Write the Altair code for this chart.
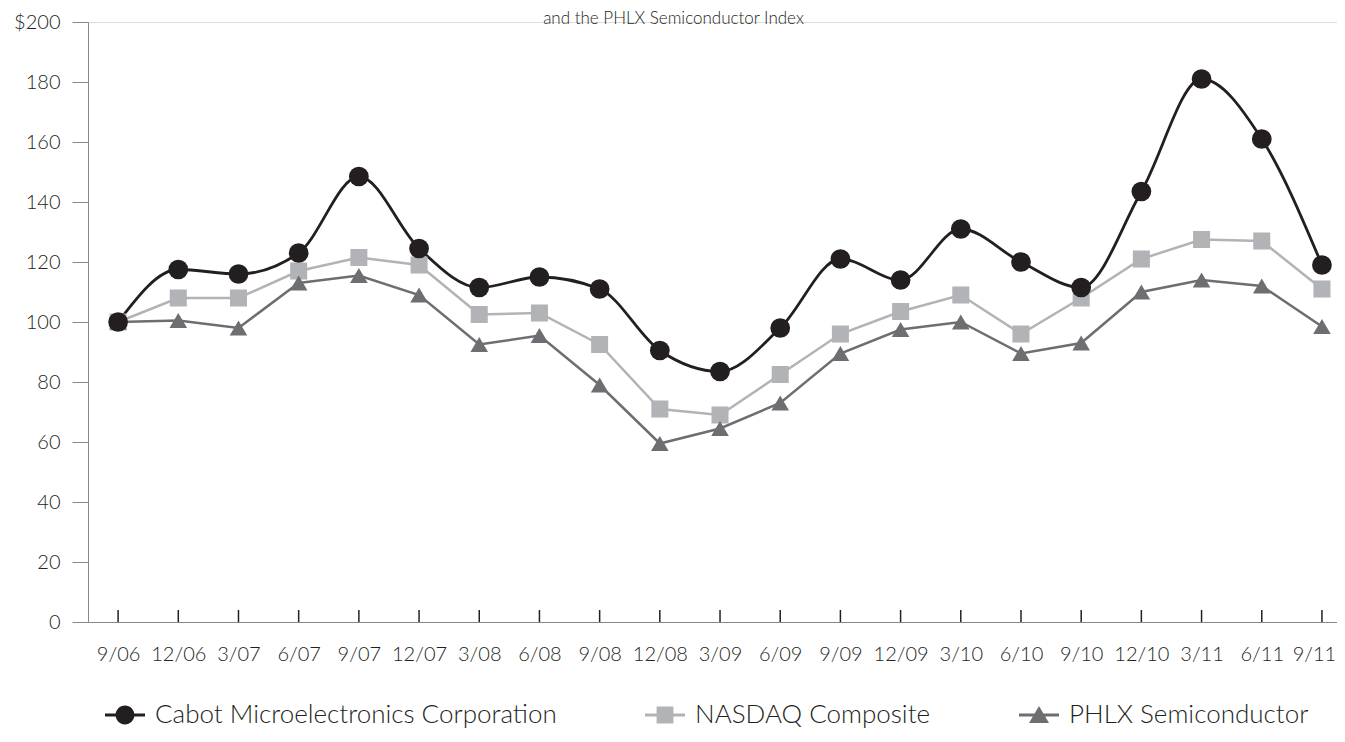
import altair as alt
import pandas as pd

quarters = ["9/06", "12/06", "3/07", "6/07", "9/07", "12/07", "3/08", "6/08", "9/08", "12/08",
            "3/09", "6/09", "9/09", "12/09", "3/10", "6/10", "9/10", "12/10", "3/11", "6/11", "9/11"]
cabot = [100, 117.5, 116, 123, 148.5, 124.5, 111.5, 115, 111, 90.5, 83.5, 98, 121, 114, 131,
         120, 111.5, 143.5, 181, 161, 119]
nasdaq = [100, 108, 108, 117, 121.5, 119, 102.5, 103, 92.5, 71, 69, 82.5, 96, 103.5, 109, 96,
          108, 121, 127.5, 127, 111]
phlx = [100, 100.5, 98, 113, 115.5, 109, 92.5, 95.5, 79, 59.5, 64.5, 73, 89.5, 97.5, 100, 89.5,
        93, 110, 114, 112, 98.5]
series_names = ["Cabot Microelectronics Corporation", "NASDAQ Composite", "PHLX Semiconductor"]
series_colors = ["#231f20", "#b1b3b6", "#6d6e71"]

rows = []
for name, vals in zip(series_names, [cabot, nasdaq, phlx]):
    for i, v in enumerate(vals):
        rows.append({"series": name, "idx": i, "q": quarters[i], "value": v})
df = pd.DataFrame(rows)
ticks_df = pd.DataFrame({"idx": list(range(len(quarters)))})

FONT = "Lato"
WEIGHT = 300
TXT = "#231f20"
label_expr = "[" + ",".join("'%s'" % q for q in quarters) + "][datum.value]"
last_idx = len(quarters) - 1

x_scale = alt.Scale(domain=[-0.5, 20.25], nice=False, zero=False)
y_scale = alt.Scale(domain=[0, 200], nice=False)
color_scale = alt.Scale(domain=series_names, range=series_colors)

x_enc = alt.X("idx:Q", scale=x_scale,
              axis=alt.Axis(values=list(range(len(quarters))), labelExpr=label_expr, ticks=False,
                            tickSize=0, labelPadding=22, title=None, grid=False,
                            labelFont=FONT, labelFontWeight=WEIGHT, labelColor=TXT,
                            labelFontSize=20, labelFlush=False,
                            labelOffset={"condition": {"test": "datum.value == %d" % last_idx,
                                                       "value": -8}, "value": 0}))
y_enc = alt.Y("value:Q", scale=y_scale,
              axis=alt.Axis(values=list(range(0, 201, 20)),
                            labelExpr="datum.value == 200 ? '$200' : datum.label",
                            labelFont=FONT, labelFontWeight=WEIGHT, labelColor=TXT,
                            tickSize=16, labelPadding=12, title=None, grid=False,
                            labelFontSize=20))

base = alt.Chart(df)


def line_layer(i, interp, width):
    return base.transform_filter(alt.datum.series == series_names[i]).mark_line(
        strokeWidth=width, interpolate=interp, color=series_colors[i]).encode(x=x_enc, y=y_enc)


def point_layer(i, shape, size):
    return base.transform_filter(alt.datum.series == series_names[i]).mark_point(
        shape=shape, filled=True, size=size, opacity=1, color=series_colors[i]).encode(
        x=x_enc, y=y_enc)


tick_marks = alt.Chart(ticks_df).mark_rule(color=TXT, strokeWidth=1.5).encode(
    x=alt.X("idx:Q", scale=x_scale), y=alt.datum(0, scale=y_scale), y2=alt.datum(4))

circle_path = "M-1,-0.075H1V0.075H-1Z M0.47,0A0.47,0.47,0,1,1,-0.47,0A0.47,0.47,0,1,1,0.47,0Z"
square_path = "M-1,-0.075H1V0.075H-1Z M-0.42,-0.42H0.42V0.42H-0.42Z"
tri_path = "M-1,-0.075H1V0.075H-1Z M0,-0.45L0.5,0.4L-0.5,0.4Z"

legend_props = dict(title=None, orient="none", legendX=17, legendY=673,
                    direction="horizontal", columns=3, columnPadding=88,
                    symbolSize=1600, symbolStrokeWidth=0, labelOffset=10,
                    labelFontSize=26, labelFont=FONT, labelFontWeight=WEIGHT,
                    labelColor=TXT, labelLimit=700)

legend_layer = base.transform_filter("false").mark_point(filled=True, opacity=1, size=1600).encode(
    x=alt.X("idx:Q", scale=x_scale),
    y=alt.Y("value:Q", scale=y_scale),
    color=alt.Color("series:N", scale=color_scale, legend=alt.Legend(**legend_props)),
    shape=alt.Shape("series:N", scale=alt.Scale(domain=series_names,
                                                range=[circle_path, square_path, tri_path]),
                    legend=alt.Legend(**legend_props)),
)

chart = alt.layer(
    tick_marks,
    line_layer(1, "linear", 2.5), line_layer(2, "linear", 2.5), line_layer(0, "monotone", 2.8),
    point_layer(1, "square", 290), point_layer(2, "triangle-up", 310), point_layer(0, "circle", 390),
    legend_layer,
).properties(
    width=1249, height=600,
    title=alt.TitleParams("and the PHLX Semiconductor Index", fontSize=17, font=FONT,
                          fontWeight=WEIGHT, color=TXT, anchor="middle", frame="group",
                          offset=0, dy=16, dx=-39),
    autosize=alt.AutoSizeParams(type="none"),
    padding={"left": 80, "top": 14, "right": 0, "bottom": 108},
).configure_view(stroke=None).configure_axis(
    labelFont=FONT, labelFontWeight=WEIGHT, labelColor=TXT, domainColor=TXT, domainWidth=1.5,
    tickColor=TXT, tickWidth=1.5,
).configure(background="white")

chart.save("out.html", embed_options={"renderer": "svg", "actions": False})
